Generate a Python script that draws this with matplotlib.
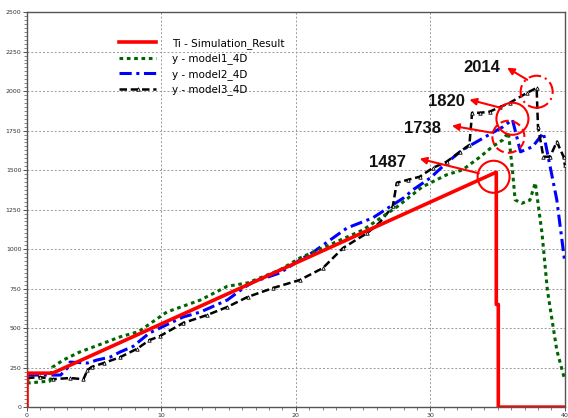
import matplotlib
matplotlib.use('Agg')
import matplotlib.pyplot as plt
from matplotlib.patches import Ellipse
from matplotlib.ticker import MultipleLocator

# Ti - simulation result (red)
ti_x = [0, 0, 1.9, 34.9, 34.9, 35.05, 35.05, 40]
ti_y = [0, 215, 215, 1487, 650, 650, 0, 0]

# model1 (green)
m1_x = [0, 1.7, 1.9, 2.7, 3.9, 5.7, 6.9, 8.3, 10.4, 12.9, 14.9, 16.4, 18.8, 20.3, 22.5, 25.0,
        27.5, 29.4, 31.2, 32.4, 33.7, 34.6, 35.4, 35.8, 36.1, 36.3, 36.8, 37.4, 37.8, 38.3, 38.7, 39.4, 40]
m1_y = [152, 165, 253, 298, 348, 405, 444, 478, 602, 678, 765, 786, 868, 944, 1027, 1122,
        1267, 1394, 1470, 1502, 1584, 1648, 1692, 1740, 1500, 1312, 1290, 1310, 1420, 1100, 740, 360, 170]

# model2 (blue)
m2_x = [0, 2.5, 3.0, 3.2, 4.5, 5.2, 6.2, 6.9, 7.9, 9.1, 11.6, 12.9, 14.9, 16.1, 16.8, 18.8, 20.3,
        21.3, 23.8, 25.7, 27.2, 28.0, 28.7, 30.0, 31.2, 32.4, 33.7, 34.6, 35.4, 36.1, 36.7, 37.6, 38.4, 39.4, 40]
m2_y = [203, 203, 247, 285, 279, 298, 317, 348, 385, 469, 570, 602, 678, 754, 792, 849, 932,
        982, 1134, 1197, 1280, 1324, 1375, 1451, 1546, 1629, 1692, 1736, 1774, 1820, 1616, 1648, 1736, 1312, 912]

# model3 (black)
m3_x = [0, 1.0, 1.9, 3.2, 4.2, 4.5, 4.8, 5.7, 6.9, 8.2, 9.1, 9.9, 11.6, 13.4, 14.9, 16.4, 18.3, 20.3,
        22.0, 23.5, 25.3, 26.2, 27.2, 27.5, 28.3, 29.2, 30.2, 31.2, 32.2, 32.9, 33.1, 33.7, 34.4, 35.2,
        35.9, 37.2, 37.9, 38.0, 38.4, 38.9, 39.4, 39.9, 40]
m3_y = [184, 190, 177, 184, 177, 234, 254, 279, 315, 370, 424, 450, 532, 583, 634, 697, 754, 805,
        880, 1007, 1102, 1166, 1270, 1420, 1438, 1458, 1515, 1553, 1616, 1660, 1863, 1863, 1870, 1900,
        1926, 1990, 2020, 1775, 1585, 1585, 1680, 1585, 1530]

# callouts: label, text pos, arrow tail, arrow head, circle centre, circle style
peak_labels = ['1487', '1738', '1820', '2014']
label_pos = [(26.8, 1546), (29.4, 1762), (31.2, 1933), (33.8, 2148)]
arrow_tail = [(33.6, 1480), (34.6, 1736), (35.2, 1895), (37.2, 2072)]
arrow_head = [(29.2, 1572), (31.6, 1781), (32.9, 1946), (35.7, 2148)]
circ_xy = [(34.7, 1458), (35.8, 1711), (36.1, 1825), (37.9, 1996)]
circ_ls = ['-', (0, (4, 2)), '-', (0, (6, 2, 1, 2))]

fig = plt.figure(figsize=(5.68, 4.18), dpi=100)
ax = fig.add_axes([0.0475, 0.026, 0.947, 0.945])

ax.plot(ti_x, ti_y, color='#ff0000', lw=2.6, label='Ti - Simulation_Result', zorder=5)
ax.plot(m1_x, m1_y, color='#006400', lw=2.2, linestyle=(0, (1.2, 1.2)), label='y - model1_4D', zorder=4)
ax.plot(m2_x, m2_y, color='#0000ff', lw=2.2, linestyle=(0, (4, 1.5, 1, 1.5)), label='y - model2_4D', zorder=3)
ax.plot(m3_x, m3_y, color='black', lw=1.8, linestyle=(0, (3, 1.5)), marker='^', markersize=2.5,
        markerfacecolor='white', markeredgewidth=0.6, label='y - model3_4D', zorder=3)

for i in range(len(peak_labels)):
    ax.annotate('', xy=arrow_head[i], xytext=arrow_tail[i],
                arrowprops=dict(arrowstyle='-|>', color='red', lw=1.5, mutation_scale=10,
                                shrinkA=0, shrinkB=0), zorder=6)
    ax.text(label_pos[i][0], label_pos[i][1], peak_labels[i], fontsize=12, fontweight='bold',
            family='Liberation Sans', ha='center', va='center', color='#111111', zorder=7)
    ax.add_patch(Ellipse(circ_xy[i], 2 * 16 / 13.45, 2 * 16 / 0.1578, fill=False,
                         edgecolor='red', lw=1.5, linestyle=circ_ls[i], zorder=6))

ax.set_xlim(0, 40)
ax.set_ylim(0, 2500)
ax.xaxis.set_major_locator(MultipleLocator(10))
ax.xaxis.set_minor_locator(MultipleLocator(1))
ax.yaxis.set_major_locator(MultipleLocator(250))
ax.yaxis.set_minor_locator(MultipleLocator(25))
ax.tick_params(which='major', labelsize=4.5, length=3, width=0.6, pad=1, colors='#333333')
ax.tick_params(which='minor', length=2, width=0.5, colors='#555555')
ax.grid(True, which='major', linestyle=(0, (2, 2)), color='#999999', lw=0.7)
for s in ax.spines.values():
    s.set_color('#555555')
    s.set_linewidth(1)

ax.legend(loc='upper left', bbox_to_anchor=(0.172, 0.935), frameon=False, fontsize=7.5,
          handlelength=3.5, handletextpad=1.5, labelspacing=0.45, borderaxespad=0, borderpad=0)

plt.savefig('out.png', dpi=100)
